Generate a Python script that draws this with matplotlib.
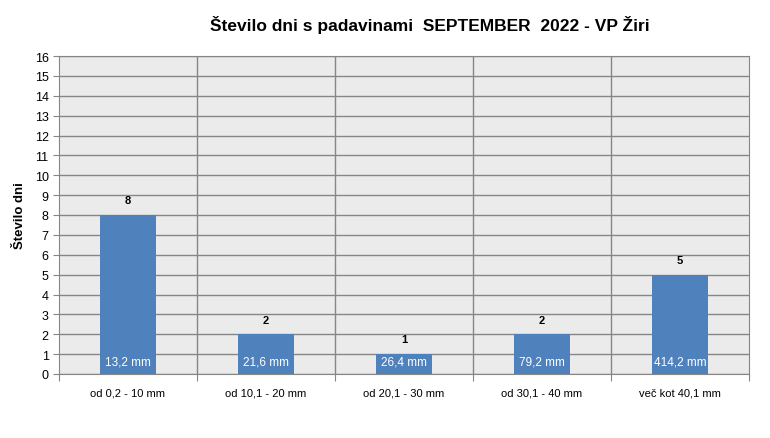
import numpy as np
import matplotlib.pyplot as plt

categories = ["od 0,2 - 10 mm", "od 10,1 - 20 mm", "od 20,1 - 30 mm",
              "od 30,1 - 40 mm", "več kot 40,1 mm"]
days = [8, 2, 1, 2, 5]
amounts = ["13,2 mm", "21,6 mm", "26,4 mm", "79,2 mm", "414,2 mm"]

plt.rcParams['font.family'] = ['Liberation Sans', 'DejaVu Sans']

fig = plt.figure(figsize=(7.7, 4.39), dpi=100)
ax = fig.add_axes([59/770, 1 - 375/439, 690/770, 318/439])
ax.set_facecolor('#EBEBEB')

x = np.arange(len(categories))
ax.bar(x, days, width=0.41, color='#4F81BD', zorder=3)

for xi, d, a in zip(x, days, amounts):
    ax.annotate(str(d), (xi, d), xytext=(0, 7), textcoords='offset points',
                ha='center', va='bottom', fontsize=8, fontweight='bold', zorder=4)
    ax.text(xi, 0.62, a, ha='center', va='center', color='white', fontsize=8.5, zorder=4)

ax.set_xlim(-0.5, len(categories) - 0.5)
ax.set_ylim(0, 16)
ax.set_yticks(range(0, 17))
ax.yaxis.grid(True, color='#868686', linewidth=1, zorder=1)
for b in np.arange(0.5, len(categories) - 0.5, 1):
    ax.axvline(b, color='#868686', linewidth=1, zorder=1)

ax.set_xticks(np.arange(-0.5, len(categories), 1), minor=False)
ax.set_xticklabels([])
ax.set_xticks(x, minor=True)
ax.set_xticklabels(categories, minor=True, fontsize=8)
ax.tick_params(axis='x', which='minor', length=0, pad=10)
ax.tick_params(axis='x', which='major', length=5, color='#868686')
ax.tick_params(axis='y', length=4, color='#868686', labelsize=9)

for s in ax.spines.values():
    s.set_color('#868686')

ax.set_ylabel('Število dni', fontsize=9.5, fontweight='bold', labelpad=6)
fig.text(430/770, 1 - 25/439, 'Število dni s padavinami  SEPTEMBER  2022 - VP Žiri',
         ha='center', va='center', fontsize=12.5, fontweight='bold')

fig.savefig('out.png', dpi=100)
